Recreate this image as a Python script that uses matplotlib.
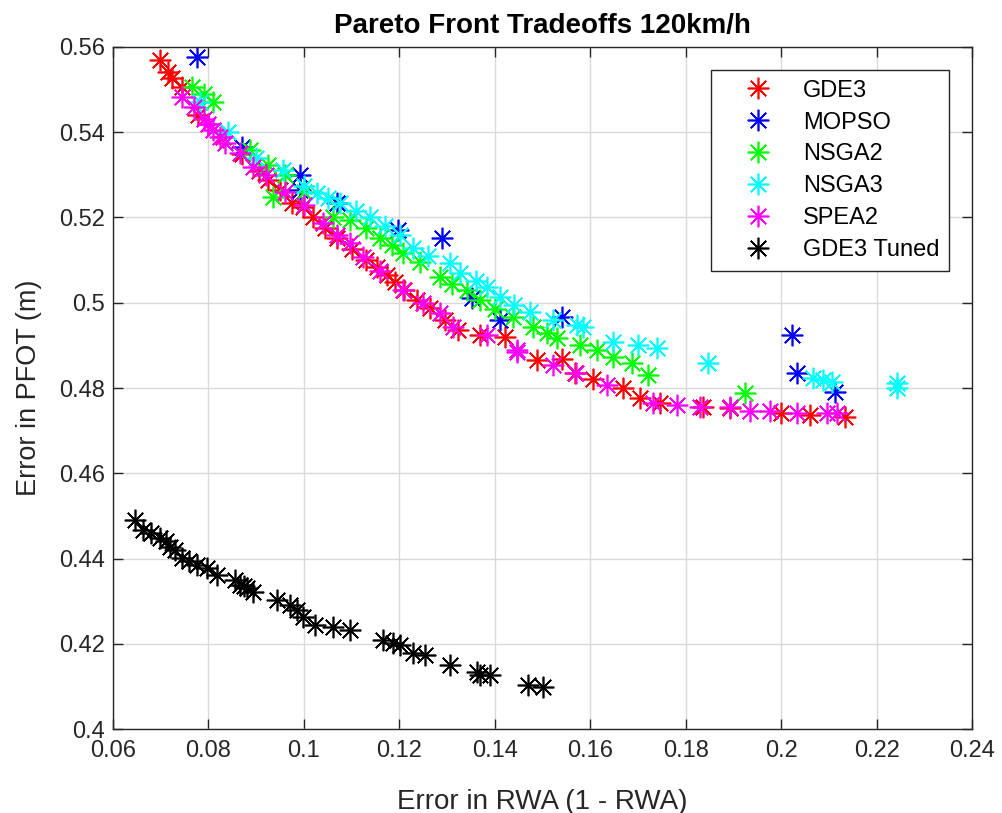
import matplotlib.pyplot as plt

plt.rcParams['font.family'] = ['Liberation Sans', 'DejaVu Sans']

# Pareto fronts (x = 1 - RWA, y = PFOT error)
gde3_x = [0.0698, 0.0715, 0.0724, 0.0745, 0.0778, 0.0800, 0.0830, 0.0870, 0.0905, 0.0925,
          0.0950, 0.0975, 0.0998, 0.1020, 0.1045, 0.1069, 0.1100, 0.1130, 0.1153, 0.1175,
          0.1191, 0.1210, 0.1237, 0.1264, 0.1295, 0.1323, 0.1370, 0.1421, 0.1489, 0.1540,
          0.1568, 0.1606, 0.1669, 0.1704, 0.1746, 0.1836, 0.1893, 0.2000, 0.2060, 0.2134]
gde3_y = [0.5569, 0.5541, 0.5527, 0.5505, 0.5440, 0.5420, 0.5390, 0.5350, 0.5310, 0.5288,
          0.5264, 0.5234, 0.5225, 0.5200, 0.5175, 0.5152, 0.5125, 0.5100, 0.5084, 0.5065,
          0.5049, 0.5030, 0.5006, 0.4988, 0.4960, 0.4936, 0.4925, 0.4920, 0.4866, 0.4868,
          0.4835, 0.4821, 0.4800, 0.4776, 0.4765, 0.4755, 0.4753, 0.4741, 0.4737, 0.4732]

mopso_x = [0.0776, 0.0870, 0.0992, 0.0992, 0.1069, 0.1197, 0.1289, 0.1352, 0.1411,
           0.1541, 0.2023, 0.2033, 0.2113]
mopso_y = [0.5577, 0.5365, 0.5300, 0.5264, 0.5234, 0.5171, 0.5152, 0.5011, 0.4959,
           0.4967, 0.4924, 0.4835, 0.4791]

nsga2_x = [0.0766, 0.0790, 0.0810, 0.0887, 0.0925, 0.0935, 0.0960, 0.1000, 0.1061, 0.1097,
           0.1130, 0.1160, 0.1185, 0.1208, 0.1243, 0.1285, 0.1310, 0.1342, 0.1369, 0.1400,
           0.1438, 0.1480, 0.1510, 0.1530, 0.1579, 0.1614, 0.1648, 0.1688, 0.1722, 0.1924]
nsga2_y = [0.5506, 0.5490, 0.5471, 0.5358, 0.5323, 0.5248, 0.5300, 0.5260, 0.5201, 0.5194,
           0.5175, 0.5152, 0.5135, 0.5117, 0.5096, 0.5060, 0.5045, 0.5030, 0.5006, 0.4985,
           0.4967, 0.4943, 0.4930, 0.4917, 0.4901, 0.4889, 0.4873, 0.4859, 0.4830, 0.4788]

nsga3_x = [0.0782, 0.0840, 0.0900, 0.0956, 0.1000, 0.1027, 0.1050, 0.1076, 0.1110, 0.1139,
           0.1170, 0.1201, 0.1229, 0.1260, 0.1306, 0.1327, 0.1360, 0.1384, 0.1411, 0.1440,
           0.1474, 0.1522, 0.1572, 0.1585, 0.1648, 0.1700, 0.1740, 0.1847, 0.2067, 0.2088,
           0.2107, 0.2243, 0.2243]
nsga3_y = [0.5471, 0.5400, 0.5340, 0.5311, 0.5275, 0.5257, 0.5245, 0.5234, 0.5215, 0.5201,
           0.5180, 0.5159, 0.5128, 0.5110, 0.5093, 0.5070, 0.5050, 0.5037, 0.5013, 0.4995,
           0.4978, 0.4959, 0.4948, 0.4943, 0.4908, 0.4901, 0.4894, 0.4859, 0.4823, 0.4819,
           0.4814, 0.4812, 0.4800]

spea2_x = [0.0745, 0.0770, 0.0790, 0.0800, 0.0810, 0.0824, 0.0835, 0.0866, 0.0893, 0.0920,
           0.0960, 0.1000, 0.1040, 0.1070, 0.1097, 0.1124, 0.1160, 0.1208, 0.1250, 0.1285,
           0.1313, 0.1384, 0.1447, 0.1447, 0.1522, 0.1570, 0.1635, 0.1732, 0.1782, 0.1830,
           0.1893, 0.1935, 0.1977, 0.2033, 0.2096, 0.2117]
spea2_y = [0.5483, 0.5460, 0.5430, 0.5420, 0.5405, 0.5389, 0.5375, 0.5351, 0.5318, 0.5300,
           0.5260, 0.5230, 0.5187, 0.5160, 0.5140, 0.5107, 0.5075, 0.5030, 0.5000, 0.4976,
           0.4943, 0.4924, 0.4889, 0.4884, 0.4854, 0.4835, 0.4807, 0.4765, 0.4760, 0.4755,
           0.4755, 0.4747, 0.4745, 0.4741, 0.4741, 0.4741]

tuned_x = [0.0646, 0.0663, 0.0680, 0.0698, 0.0710, 0.0719, 0.0730, 0.0745, 0.0760, 0.0776,
           0.0797, 0.0818, 0.0856, 0.0866, 0.0875, 0.0881, 0.0893, 0.0944, 0.0971, 0.0986,
           0.0998, 0.1023, 0.1061, 0.1097, 0.1166, 0.1187, 0.1201, 0.1229, 0.1254, 0.1306,
           0.1363, 0.1369, 0.1390, 0.1470, 0.1501]
tuned_y = [0.4490, 0.4467, 0.4460, 0.4448, 0.4440, 0.4427, 0.4420, 0.4401, 0.4395, 0.4385,
           0.4378, 0.4361, 0.4349, 0.4338, 0.4335, 0.4331, 0.4321, 0.4302, 0.4291, 0.4279,
           0.4263, 0.4244, 0.4240, 0.4232, 0.4209, 0.4202, 0.4197, 0.4178, 0.4173, 0.4150,
           0.4134, 0.4127, 0.4127, 0.4103, 0.4098]

series = [
    ('GDE3', gde3_x, gde3_y, (1, 0, 0)),
    ('MOPSO', mopso_x, mopso_y, (0, 0, 1)),
    ('NSGA2', nsga2_x, nsga2_y, (0, 1, 0)),
    ('NSGA3', nsga3_x, nsga3_y, (0, 1, 1)),
    ('SPEA2', spea2_x, spea2_y, (1, 0, 1)),
    ('GDE3 Tuned', tuned_x, tuned_y, (0, 0, 0)),
]

dark = (0.15, 0.15, 0.15)

fig = plt.figure(figsize=(10.03, 8.13), dpi=100)
ax = fig.add_axes([0.1127, 0.1033, 0.8564, 0.8389])

# MATLAB-style '*' marker: 8 spokes
star = (8, 2, 0)
for name, xs, ys, col in series:
    ax.plot(xs, ys, linestyle='none', marker=star, markersize=15.5,
            markeredgewidth=1.2, color=col, label=name)

ax.set_xlim(0.06, 0.24)
ax.set_ylim(0.4, 0.56)
ax.set_xticks([0.06, 0.08, 0.1, 0.12, 0.14, 0.16, 0.18, 0.2, 0.22, 0.24])
ax.set_xticklabels(['0.06', '0.08', '0.1', '0.12', '0.14', '0.16', '0.18', '0.2', '0.22', '0.24'])
ax.set_yticks([0.4, 0.42, 0.44, 0.46, 0.48, 0.5, 0.52, 0.54, 0.56])
ax.set_yticklabels(['0.4', '0.42', '0.44', '0.46', '0.48', '0.5', '0.52', '0.54', '0.56'])

ax.grid(True, color=(0.85, 0.85, 0.85), linewidth=1)
ax.set_axisbelow(True)
ax.tick_params(direction='in', length=7, width=1, labelsize=17, colors=dark,
               top=True, right=True)
ax.tick_params(axis='y', pad=6)
ax.tick_params(axis='x', pad=8)
for s in ax.spines.values():
    s.set_color(dark)
    s.set_linewidth(1)

ax.set_xlabel('Error in RWA (1 - RWA)', fontsize=20, color=dark, labelpad=19)
ax.set_ylabel('Error in PFOT (m)', fontsize=19.5, color=dark, labelpad=12)
ax.set_title('Pareto Front Tradeoffs 120km/h', fontsize=20, fontweight='bold', pad=10)

leg = ax.legend(loc='upper right', bbox_to_anchor=(0.9732, 0.966), borderaxespad=0,
                fontsize=17, frameon=True, fancybox=False, edgecolor=dark,
                framealpha=1, handlelength=3.2, labelspacing=0.42, borderpad=0.4,
                handletextpad=0.3)
leg.get_frame().set_linewidth(1)

plt.savefig('out.png', dpi=100, facecolor='white')
